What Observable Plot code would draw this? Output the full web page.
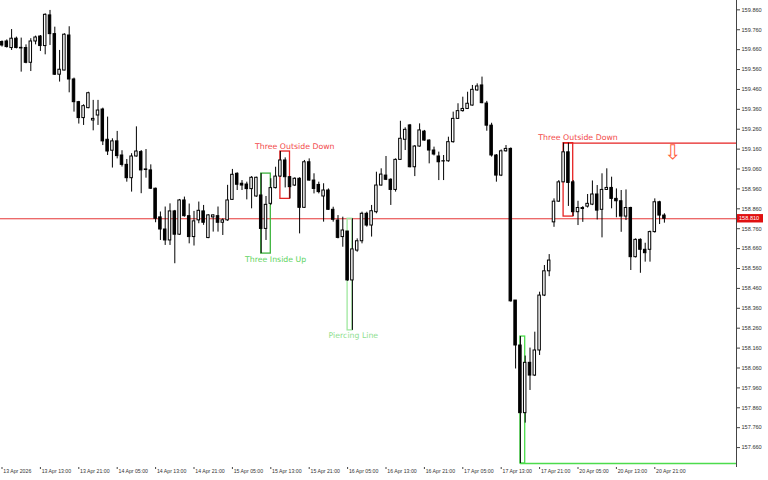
<!DOCTYPE html>
<html><head><meta charset="utf-8">
<script src="https://cdn.jsdelivr.net/npm/d3@7"></script>
<script src="https://cdn.jsdelivr.net/npm/@observablehq/plot@0.6"></script>
<style>
html,body{margin:0;padding:0;background:#fff;}
#chart{width:768px;height:480px;overflow:hidden;}
</style></head><body><div id="chart"></div>
<script>
// ---- data: hourly candles (bar index 0 = 13 Apr 05:00) ----
const open = [159.698,159.701,159.668,159.715,159.669,159.668,159.594,159.701,159.726,159.678,
159.832,159.738,159.534,159.555,159.731,159.510,159.396,159.316,159.366,159.304,
159.329,159.359,159.207,159.152,159.199,159.128,159.081,159.014,159.123,159.145,
159.055,159.053,158.961,158.817,158.756,158.701,158.847,158.730,158.902,158.823,
158.718,158.802,158.847,158.713,158.817,158.823,158.790,158.802,158.905,159.036,
158.986,158.982,158.959,158.922,158.927,158.759,158.885,158.964,159.022,159.103,
159.019,158.977,159.011,158.865,159.094,159.002,158.980,158.922,158.952,158.855,
158.801,158.718,158.746,158.500,158.650,158.697,158.835,158.776,158.843,158.977,
159.027,159.006,158.955,159.106,159.207,159.279,159.069,159.173,159.248,159.203,
159.153,159.123,159.099,159.099,159.195,159.312,159.351,159.362,159.379,159.455,
159.480,159.389,159.278,159.128,159.027,159.149,159.161,158.399,158.173,157.833,
158.086,158.022,158.148,158.424,158.546,158.792,158.896,158.993,159.144,158.993,
158.843,158.859,158.871,158.881,158.932,158.855,158.955,158.965,158.910,158.898,
158.821,158.864,158.617,158.704,158.654,158.654,158.743,158.893,158.826];
const high = [159.704,159.709,159.761,159.723,159.718,159.684,159.715,159.728,159.731,159.840,
159.857,159.773,159.656,159.740,159.775,159.517,159.400,159.383,159.446,159.405,
159.405,159.366,159.321,159.212,159.249,159.152,159.108,159.137,159.272,159.153,
159.158,159.081,158.964,158.844,158.869,158.885,158.852,158.907,158.919,158.884,
158.847,158.894,158.877,158.830,158.830,158.869,158.810,158.978,159.058,159.041,
159.002,158.994,159.022,159.019,159.037,158.922,159.011,159.069,159.148,159.116,
159.022,159.016,159.016,159.103,159.111,159.036,158.994,158.986,158.960,158.868,
158.826,158.818,158.746,158.810,158.709,158.843,158.843,158.877,159.044,159.061,
159.123,159.011,159.111,159.300,159.267,159.284,159.178,159.287,159.254,159.207,
159.170,159.145,159.128,159.220,159.346,159.388,159.421,159.446,159.480,159.488,
159.522,159.400,159.290,159.133,159.156,159.178,159.166,158.399,158.218,158.120,
158.160,158.240,158.441,158.575,158.630,158.910,159.002,159.190,159.190,159.002,
158.898,158.871,158.932,159.000,158.977,159.036,159.061,159.019,158.960,158.952,
158.955,158.868,158.709,158.709,158.687,158.748,158.910,158.898,158.835];
const low = [159.673,159.668,159.656,159.664,159.547,159.589,159.550,159.684,159.651,159.634,
159.681,159.530,159.497,159.554,159.443,159.346,159.286,159.279,159.363,159.252,
159.279,159.178,159.128,159.065,159.111,159.070,158.994,158.944,159.120,158.936,
159.014,158.957,158.790,158.701,158.676,158.676,158.584,158.726,158.818,158.684,
158.673,158.785,158.777,158.710,158.743,158.743,158.726,158.797,158.902,158.952,
158.952,158.905,158.860,158.918,158.635,158.701,158.877,158.960,159.019,158.965,
158.910,158.972,158.734,158.862,158.999,158.935,158.935,158.793,158.852,158.793,
158.709,158.667,158.496,158.249,158.642,158.684,158.768,158.718,158.835,158.974,
159.002,158.877,158.944,159.103,159.153,159.066,159.022,159.170,159.200,159.086,
159.126,159.002,159.002,159.094,159.190,159.309,159.346,159.359,159.376,159.451,
159.388,159.250,159.120,158.994,159.022,159.145,158.391,158.055,157.580,157.783,
157.947,158.017,158.123,158.419,158.519,158.767,158.893,158.993,158.872,158.821,
158.776,158.792,158.864,158.876,158.804,158.714,158.952,158.860,158.815,158.742,
158.801,158.550,158.613,158.536,158.592,158.592,158.738,158.781,158.788];
const close = [159.681,159.673,159.715,159.668,159.666,159.594,159.701,159.721,159.678,159.835,
159.738,159.534,159.559,159.735,159.510,159.396,159.316,159.376,159.441,159.312,
159.354,159.199,159.148,159.199,159.125,159.081,159.014,159.123,159.148,159.053,
159.058,158.961,158.810,158.756,158.701,158.847,158.730,158.902,158.823,158.718,
158.797,158.850,158.790,158.827,158.827,158.790,158.802,158.902,159.031,158.981,
158.977,158.959,159.016,159.016,158.759,158.880,158.964,159.022,159.103,159.019,
158.969,159.011,158.865,159.094,159.002,158.960,158.944,158.952,158.855,158.805,
158.714,158.751,158.500,158.656,158.697,158.835,158.776,158.848,158.977,159.032,
159.006,158.955,159.106,159.212,159.257,159.069,159.173,159.254,159.203,159.153,
159.133,159.094,159.098,159.195,159.312,159.351,159.362,159.388,159.458,159.475,
159.391,159.278,159.128,159.027,159.149,159.161,158.395,158.173,157.833,158.086,
158.022,158.148,158.424,158.546,158.600,158.896,158.993,159.144,158.990,158.843,
158.864,158.864,158.885,158.932,158.851,158.955,158.965,158.910,158.898,158.821,
158.864,158.617,158.704,158.654,158.637,158.743,158.893,158.826,158.810];

// time axis labels (bar index -> label)
const timeTickBar = [0,8,16,24,32,40,48,56,64,72,80,88,96,104,112,120,128,136];
const timeTickLabel = ["13 Apr 2026","13 Apr 13:00","13 Apr 21:00","14 Apr 05:00","14 Apr 13:00",
"14 Apr 21:00","15 Apr 05:00","15 Apr 13:00","15 Apr 21:00","16 Apr 05:00","16 Apr 13:00",
"16 Apr 21:00","17 Apr 05:00","17 Apr 13:00","17 Apr 21:00","20 Apr 05:00","20 Apr 13:00","20 Apr 21:00"];

// price axis ticks
const priceTicks = [159.860,159.760,159.660,159.560,159.460,159.360,159.260,159.160,159.060,
158.960,158.860,158.760,158.660,158.560,158.460,158.360,158.260,158.160,158.060,157.960,
157.860,157.760,157.660];

// candlestick patterns
const patternName  = ["Three Inside Up","Three Outside Down","Piercing Line","","Three Outside Down"];
const patternStart = [54, 58, 72, 108, 117];
const patternEnd   = [56, 60, 73, 109, 119];
const patternLabelBar = [57, 61, 73.2, null, 120];
const patternSide  = ["below","above","below","below","above"];
const patternExtend = [false,false,false,true,true];

// sell arrow
const arrowBar = [139.7];
const arrowPrice = [159.145];

// ---- styles ----
const patternBoxColor  = ["#3cb43c","#e62222","#9fe89f","#4cdc4c","#e62222"];
const patternTextColor = ["#5fd45f","#f24a4a","#8fe08f","#4cdc4c","#f24a4a"];

const bars = open.map((o,i)=>({i, o, h:high[i], l:low[i], c:close[i]}));
const upBars = bars.filter(d=>d.c>=d.o);
const downBars = bars.filter(d=>d.c<d.o);
const last = bars[bars.length-1];

const plotRight = 736, plotBottom = 463;
const barStep = 4.8, firstX = 1.5;
const xDomain = [-firstX/barStep, (plotRight-firstX)/barStep];
const yDomain = [157.580, 159.907];
const halfBody = 0.26;

const patterns = patternName.map((name,k)=>{
  const sub = bars.slice(patternStart[k], patternEnd[k]+1);
  return {name, s:patternStart[k], e:patternEnd[k], lab:patternLabelBar[k], side:patternSide[k],
    ext:patternExtend[k], top:d3.max(sub,d=>d.h), bottom:d3.min(sub,d=>d.l), k};
});

const marks = [];
marks.push(Plot.ruleY([last.c], {stroke:"#e53535", strokeWidth:1}));
patterns.forEach(p=>{
  marks.push(Plot.rect([p], {x1:"s", x2:"e", y1:"bottom", y2:"top", fill:"none",
    stroke:patternBoxColor[p.k], strokeWidth:1.3}));
  if (p.ext) {
    const yv = p.side==="above" ? p.top : p.bottom;
    marks.push(Plot.ruleY([yv], {x1:p.s, x2:xDomain[1], stroke:patternBoxColor[p.k], strokeWidth:1.3}));
  }
  if (p.name && p.lab!=null) {
    marks.push(Plot.text([p], {x:"lab", y: p.side==="above" ? "top" : "bottom",
      dy: p.side==="above" ? -5.5 : 5.5, text:"name", fill:patternTextColor[p.k],
      fontSize:7.8, fontFamily:"DejaVu Sans", lineAnchor:"middle"}));
  }
});
marks.push(Plot.ruleX(bars, {x:"i", y1:"l", y2:"h", stroke:"#000", strokeWidth:1}));
marks.push(Plot.rect(upBars, {x1:d=>d.i-halfBody, x2:d=>d.i+halfBody, y1:"o", y2:"c", fill:"#fff", stroke:"#000", strokeWidth:1}));
marks.push(Plot.rect(downBars, {x1:d=>d.i-halfBody, x2:d=>d.i+halfBody, y1:"o", y2:"c", fill:"#000", stroke:"#000", strokeWidth:1}));
marks.push(Plot.text(arrowBar.map((b,i)=>({b, p:arrowPrice[i]})), {x:"b", y:"p", text:()=>"⇩",
  fill:"#ff6040", fontSize:20, fontFamily:"DejaVu Sans"}));
marks.push(Plot.ruleX([xDomain[1]], {stroke:"#444", strokeWidth:1, insetBottom:-4}));
marks.push(Plot.axisY(priceTicks, {anchor:"right", tickSize:3, tickPadding:2,
  tickFormat:d3.format(".3f"), fontSize:5.6, fontFamily:"Liberation Sans", stroke:"#444", fill:"#333"}));
marks.push(Plot.axisX(timeTickBar, {anchor:"bottom", tickSize:2, dy:4, tickFormat:()=>"", stroke:"#444"}));
marks.push(Plot.text(timeTickBar, {x:d=>d, frameAnchor:"bottom", dy:8, dx:1.3, textAnchor:"start",
  lineAnchor:"middle", text:(d,i)=>timeTickLabel[i], fontSize:5.2, fontFamily:"Liberation Sans", fill:"#333"}));

const plot = Plot.plot({
  width:768, height:480,
  marginLeft:0, marginRight:768-plotRight, marginTop:0, marginBottom:480-plotBottom,
  x:{domain:xDomain, axis:null},
  y:{domain:yDomain, axis:null},
  style:{background:"#fff", overflow:"visible", fontFamily:"Liberation Sans"},
  marks
});

// current price tag on the axis (positioned through Plot's y scale)
const ys = plot.scale("y");
const svg = d3.select(plot);
const yy = ys.apply(last.c);
const g = svg.append("g");
g.append("rect").attr("x", plotRight+1).attr("y", yy-4.2).attr("width", 26).attr("height", 8.4).attr("fill", "#e01010");
g.append("text").attr("x", plotRight+3).attr("y", yy).attr("dy","0.35em").attr("text-anchor","start")
  .attr("font-size", 5.6).attr("font-family","Liberation Sans").attr("fill","#fff").text(d3.format(".3f")(last.c));

document.getElementById("chart").appendChild(plot);
</script>
</body></html>
